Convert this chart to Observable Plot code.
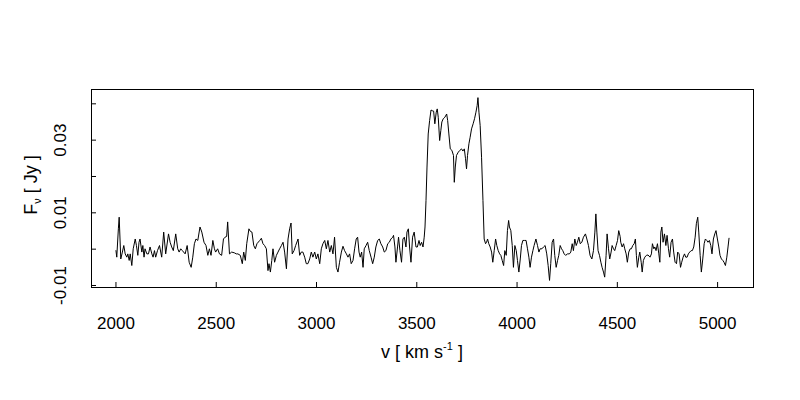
<!DOCTYPE html>
<html><head><meta charset="utf-8">
<script src="https://cdn.jsdelivr.net/npm/d3@7"></script>
<script src="https://cdn.jsdelivr.net/npm/@observablehq/plot@0.6"></script>
<style>
body{margin:0;background:#fff}
#chart svg{font-family:"Liberation Sans",Arial,Helvetica,sans-serif}
</style>
</head><body><div id="chart"></div>
<script>
// Velocity channels (km/s)
const velocity = [
2000,2004,2012,2016,2024,2032,2039,2046,2054,2059,2066,2071,2079,2086,2096,2102,2109,2115,2120,2129,
2134,2140,2145,2154,2162,2170,2179,2185,2192,2198,2207,2217,2228,2238,2248,2262,2270,2278,2286,2298,
2308,2315,2323,2331,2345,2355,2365,2375,2383,2391,2399,2408,2419,2428,2439,2449,2458,2466,2474,2483,
2491,2497,2507,2516,2527,2536,2544,2552,2557,2566,2577,2590,
2600,2608,2620,2630,2637,2645,2652,2663,2670,2678,2687,2695,2703,2717,2725,2733,2741,2750,2758,2763,
2770,2777,2783,2791,2800,2808,2816,2825,2833,2841,2850,2858,2866,2873,2879,2888,2896,2908,2916,2924,
2932,2941,2949,2957,2966,2974,2982,2991,2999,3007,3016,3024,3032,3041,3049,3057,3066,3074,3082,3090,
3099,3107,3115,3124,3132,3140,3149,3157,3165,3173,3182,3190,3198,3205,3212,3218,3225,3232,3238,
3247,3255,3263,3272,3280,3288,3296,3305,3313,3321,3330,3338,3346,3355,3363,3371,3380,3384,3391,3396,
3404,3409,3416,3424,3431,3438,3446,3451,3458,3464,3471,3479,3487,3496,3503,3511,3517,3524,3531,3537,
3541,3546,3551,3557,3564,3571,3577,3584,3590,3597,3602,3607,3614,3620,3625,3632,3640,3649,3654,3660,
3667,3675,3683,3687,3692,3698,3707,3715,3723,3730,3737,3743,3748,3753,3760,3766,3773,3781,3788,3795,
3801,3805,3810,3816,3823,3830,3836,3843,3848,3853,3859,3866,
3873,3879,3886,3893,3899,3906,3913,3919,3926,3933,3939,3946,3952,3958,3962,3969,3976,3982,3989,3996,
4002,4009,4016,4022,4029,4037,4045,4052,4059,4065,4072,4079,4085,4094,4102,4109,4115,4124,4132,4140,
4148,4155,4162,4168,4175,4182,4188,4195,4202,4208,4215,4222,4228,4235,4242,4252,4261,4268,4275,4281,
4288,4295,4301,4308,4315,4323,4331,4341,4348,4356,4364,4373,4381,4388,4393,4398,4404,4411,4418,4424,
4431,4437,4444,4449,4456,4462,4469,4474,4481,4487,4494,4501,
4507,4514,4517,4524,4531,4537,4544,4550,4557,4564,4570,4577,4584,4590,4595,4600,4607,4612,4619,4624,
4630,4637,4645,4653,4663,4670,4675,4682,4687,4693,4700,4707,4712,4717,4722,4728,4735,4742,4748,4755,
4761,4768,4775,4781,4788,4795,4801,4808,4815,4821,4828,4835,4841,4848,4854,4861,4868,4874,4881,4888,
4894,4901,4906,4913,4919,4926,4933,4939,4946,4952,4959,4966,4972,4979,4986,4992,4999,5006,5012,5019,
5026,5032,5039,5046,5052,5057
];
// Flux density in mJy (converted to Jy below)
const fluxMJy = [
-0.4,-2.2,5.6,8.8,-2.7,-0.8,1.0,-1.3,-2.2,-1.3,-3.1,-1.3,-4.5,0.1,2.8,1.0,-1.7,1.9,2.8,-0.8,
1.0,-2.2,0.1,-1.3,-1.3,0.6,-1.3,-2.2,-0.4,-2.2,-0.4,1.0,-2.2,4.7,-1.3,4.2,1.9,0.6,-0.4,4.2,
0.1,-0.8,0.1,-0.4,-1.3,1.0,-3.6,-5.0,-2.2,1.5,2.8,2.4,6.1,4.7,1.9,1.0,-1.7,0.1,-1.7,2.4,
0.1,-0.8,0.1,-1.3,-1.7,2.8,3.3,3.5,7.5,-1.3,-0.8,-1.0,
-1.3,-1.3,-1.7,-4.0,-0.8,-3.1,1.5,5.6,4.9,4.7,1.0,0.1,1.5,2.4,3.0,1.5,1.0,0.1,-5.9,-4.0,
-6.3,-3.1,0.1,-3.6,-1.7,-0.8,0.1,1.0,1.9,-0.8,-5.4,2.8,5.6,7.2,-1.3,-0.4,1.0,2.8,-1.7,-0.8,
-0.8,-2.2,-4.0,-4.0,-2.7,-0.8,-2.2,-0.8,-2.7,-1.3,-4.0,0.1,1.5,2.4,0.1,2.4,-0.8,1.0,-1.3,3.3,
-5.0,-6.3,-3.6,-0.8,0.8,-0.4,-1.3,-2.2,-1.3,-4.0,-3.1,0.1,2.8,3.3,-0.8,-2.2,-0.8,-5.0,0.1,
1.0,1.9,-0.4,-2.2,-4.0,-2.2,0.6,2.4,2.8,1.5,0.6,-0.8,-0.4,1.5,1.9,2.8,3.3,3.8,0.6,-3.6,
0.6,3.3,-0.4,-3.6,2.8,3.3,0.6,4.7,5.6,0.6,-3.6,3.3,4.7,0.6,0.6,2.4,1.0,1.9,0.6,3.3,
6.1,13.4,22.6,31.7,35.4,38.3,38.1,38.0,34.5,37.7,38.6,36.3,29.9,32.7,35.0,35.9,36.3,37.2,35.4,31.7,
27.6,27.2,25.8,18.4,22.6,25.8,26.7,27.2,27.6,27.0,27.6,24.9,22.1,25.8,29.0,30.8,33.1,34.5,35.9,37.7,
39.5,41.7,37.7,34.0,25.3,13.4,2.8,1.5,1.9,2.8,1.5,0.6,
-0.8,-3.6,-0.4,2.8,1.0,-0.4,-1.3,-1.7,-3.1,-4.5,-0.4,-1.7,5.1,7.9,6.1,5.1,1.0,-5.0,1.0,-0.4,
-3.1,-6.3,-2.7,1.0,2.4,2.4,2.4,0.1,-2.2,-5.0,-2.2,-0.4,1.0,2.8,1.0,-0.8,0.1,0.1,0.6,1.0,
-1.3,-4.5,-8.6,-4.0,1.9,2.8,-1.7,-5.0,-3.1,-1.7,1.0,0.1,-0.4,-1.3,-1.7,-1.3,-1.3,-0.8,1.5,-0.4,
2.8,1.0,1.9,3.3,1.5,1.9,3.3,4.2,2.8,1.0,-1.7,-2.7,-0.4,4.7,9.7,4.7,-0.4,-1.7,-3.6,-5.0,
-6.3,-7.7,-1.7,4.2,0.1,-2.7,-0.8,1.0,0.1,-0.4,1.0,2.4,
5.1,3.5,1.9,0.6,1.5,0.1,-1.3,-3.6,-0.8,0.1,0.1,1.0,1.5,2.8,-1.7,-5.0,-2.2,-0.8,-3.6,-6.3,
-3.1,-2.2,-1.7,-1.6,-2.2,-1.3,1.5,0.1,0.6,-0.4,1.5,-1.3,-3.6,4.7,6.1,1.9,4.2,1.0,3.8,0.1,
-2.2,1.9,2.8,-0.8,-3.6,-4.0,-0.8,-1.3,-5.0,-3.6,-2.2,-1.3,-2.2,-2.2,-1.3,-0.8,-0.4,-0.4,0.6,3.3,
7.0,8.8,4.7,-1.7,-6.3,-2.7,1.5,2.8,2.4,1.9,2.4,1.0,-1.3,2.8,4.2,5.1,2.8,0.6,-1.7,-2.7,
-3.1,-3.6,-4.5,-2.2,0.6,3.0
];
const xTicks = [2000, 2500, 3000, 3500, 4000, 4500, 5000];
const yTicks = [-0.01, 0, 0.01, 0.02, 0.03, 0.04];
const yTickLabels = [-0.01, 0.01, 0.03];

const data = velocity.map((v, i) => ({v, f: fluxMJy[i] / 1000}));

const W = 800, H = 400, mL = 91, mR = 47, mT = 89, mB = 113;

const plot = Plot.plot({
  width: W, height: H,
  marginLeft: mL, marginRight: mR, marginTop: mT, marginBottom: mB,
  x: {domain: [1878, 5179], axis: null},
  y: {domain: [-0.01055, 0.04394], axis: null},
  style: {background: "white", color: "black", fontSize: "17px", fontFamily: '"Liberation Sans", Arial, sans-serif'},
  marks: [
    Plot.line(data, {x: "v", y: "f", stroke: "black", strokeWidth: 1}),
    Plot.tickX(xTicks, {x: d => d, stroke: "black", insetTop: H - mT - mB - 5}),
    Plot.tickY(yTicks, {y: d => d, stroke: "black", insetRight: W - mL - mR - 5}),
    Plot.text(xTicks, {x: d => d, text: d => String(d), frameAnchor: "bottom", dy: 41, textAnchor: "middle", fill: "black", fontSize: 17}),
    Plot.text(yTickLabels, {y: d => d, text: d => String(d), frameAnchor: "left", dx: -31, rotate: -90, textAnchor: "middle", fill: "black", fontSize: 17}),
    Plot.frame({stroke: "black"})
  ]
});

const svg = d3.select(plot);
const yt = svg.append("text")
  .attr("transform", "translate(37,185) rotate(-90)")
  .attr("text-anchor", "middle").attr("font-size", 18).attr("fill", "black");
yt.append("tspan").text("F");
yt.append("tspan").attr("font-size", 11).attr("dy", 4).text("ν");
yt.append("tspan").attr("dy", -4).text(" [ Jy ]");

const xt = svg.append("text")
  .attr("transform", "translate(422,358)")
  .attr("text-anchor", "middle").attr("font-size", 18).attr("fill", "black");
xt.append("tspan").text("v [ km s");
xt.append("tspan").attr("font-size", 11).attr("dy", -8).text("-1");
xt.append("tspan").attr("dy", 8).text(" ]");

document.getElementById("chart").appendChild(plot);
</script>
</body></html>
